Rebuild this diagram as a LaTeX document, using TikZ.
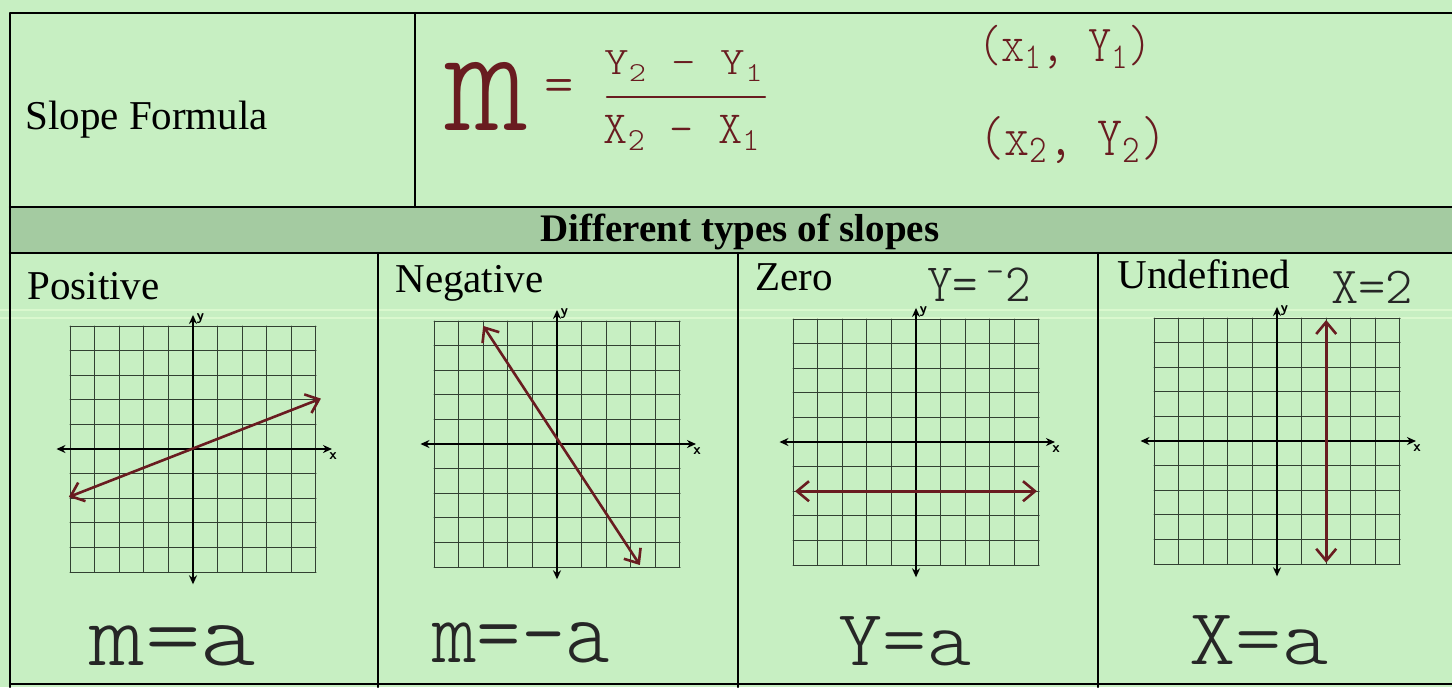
\documentclass[tikz,border=0pt]{standalone}
\usepackage{fontspec}
\setmainfont{Liberation Serif}
\newfontfamily\handfont{lmmonolt10-regular}[Extension=.otf]
\usetikzlibrary{calc, positioning, arrows.meta}
\definecolor{paper}{RGB}{199,239,194}
\definecolor{bandgreen}{RGB}{164,203,161}
\definecolor{streak}{RGB}{218,248,206}
\definecolor{gridgray}{RGB}{50,64,50}
\definecolor{ink}{RGB}{105,28,32}

\begin{document}
\begin{tikzpicture}[x=0.5pt, y=-0.5pt, line join=round, line cap=round, >=stealth,
    rule/.style={line width=1.1pt},
    gridline/.style={line width=0.5pt, gridgray},
    axis/.style={line width=1.3pt, {Stealth[length=4.5pt,width=4pt]}-{Stealth[length=4.5pt,width=4pt]}},
    handline/.style={line width=1.3pt, ink, {Straight Barb[length=6pt,width=10pt]}-{Straight Barb[length=6pt,width=10pt]}},
    celltext/.style={anchor=base west, inner sep=0pt, font=\fontsize{20.5}{24}\selectfont},
    axlabel/.style={inner sep=0pt, font=\sffamily\bfseries\fontsize{7.5}{8}\selectfont},
    redpen/.style={inner sep=0pt, text=ink},
    blackpen/.style={inner sep=0pt, text=black!85}]
    \useasboundingbox (0,0) rectangle (1452,687);

    % Paper and header band
    \fill[paper] (0,0) rectangle (1452,687);
    \fill[bandgreen] (10,207) rectangle (1452,253);
    \draw[streak, line width=0.7pt] (0,310) -- (1452,310) (0,318) -- (1452,318);

    % Table rules
    \draw[rule] (1452,13) -- (10,13) -- (10,687);
    \draw[rule] (10,207) -- (1452,207);
    \draw[rule] (10,253) -- (1452,253);
    \draw[rule] (415,13) -- (415,207);
    \foreach \x in {378,738,1098}
        \draw[rule] (\x,253) -- (\x,687);
    \draw[rule] (10,684) -- (1452,684);

    % Printed labels
    \node[celltext] (slopeformula) at (25,129) {Slope Formula};
    \node[anchor=base, inner sep=0pt, font=\bfseries\fontsize{19.5}{22}\selectfont] (typeshead) at (740,241) {Different types of slopes};
    \node[celltext] (positive) at (27,299) {Positive};
    \node[celltext] (negative) at (395,292) {Negative};
    \node[celltext] (zero) at (755,290) {Zero};
    \node[celltext] (undefined) at (1117,288) {Undefined};

    % Handwritten formula
    \node[redpen, anchor=base, font=\handfont\fontsize{79}{79}\selectfont] (fm) at (487,130) {m};
    \node[redpen, font=\handfont\fontsize{28}{28}\selectfont] (feq) at (559,91) {=};
    \node[redpen, font=\handfont\fontsize{19.5}{20}\selectfont, xscale=1.2] (fnum) at (684,66) {Y\textsubscript{2} - Y\textsubscript{1}};
    \node[redpen, font=\handfont\fontsize{23}{24}\selectfont] (fden) at (682,133) {X\textsubscript{2} - X\textsubscript{1}};
    \draw[ink, line width=1.1pt] (607,97) -- (765,97);
    \node[redpen, font=\handfont\fontsize{26}{27}\selectfont, xscale=0.85] (pone) at (1065,47) {(x\textsubscript{1}, Y\textsubscript{1})};
    \node[redpen, font=\handfont\fontsize{28}{29}\selectfont, xscale=0.85] (ptwo) at (1073,140) {(x\textsubscript{2}, Y\textsubscript{2})};

    % Grids, axes and the drawn lines
    \foreach \cx/\cy/\nm/\ax/\ay/\bx/\by in {193/449/pos/-5.05/-1.95/5.2/2.05,
            557/444/neg/-3/4.8/3.37/-4.92, 916/442/zer/-4.92/-2/4.92/-2,
            1277/441/und/2/4.92/2/-4.95}{
        \begin{scope}[shift={(\cx,\cy)}, x=12.3pt, y=12.3pt]
            \draw[gridline, step=1] (-5,-5) grid (5,5);
            \draw[axis] (-5.55,0) -- (5.65,0);
            \draw[axis] (0,-5.5) -- (0,5.45);
            \node[axlabel] (x-\nm) at (5.7,-0.3) {x};
            \node[axlabel] (y-\nm) at (0.3,5.3) {y};
            \coordinate (a-\nm) at (\ax,\ay);
            \coordinate (b-\nm) at (\bx,\by);
            \draw[handline] (a-\nm) -- (b-\nm);
        \end{scope}
    }

    % Equations written on the cells
    \node[blackpen, font=\handfont\fontsize{27}{28}\selectfont, xscale=0.9] (zeroeq) at (979,285) {Y=\,\textsuperscript{-}2};
    \node[blackpen, font=\handfont\fontsize{26}{27}\selectfont] (undefeq) at (1372,287) {X=2};
    \node[blackpen, anchor=base, font=\handfont\fontsize{46}{47}\selectfont, xscale=1.15] (posm) at (173,665) {m=a};
    \node[blackpen, anchor=base, font=\handfont\fontsize{46}{47}\selectfont, xscale=0.92] (negm) at (521,662) {m=-a};
    \node[blackpen, anchor=base, font=\handfont\fontsize{40}{41}\selectfont, xscale=1.05] (zeroy) at (905,665) {Y=a};
    \node[blackpen, anchor=base, font=\handfont\fontsize{40}{41}\selectfont, xscale=1.1] (undefx) at (1259,664) {X=a};
\end{tikzpicture}
\end{document}
